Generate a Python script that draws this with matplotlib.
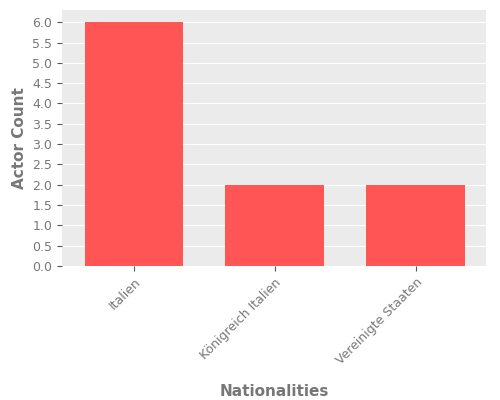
import matplotlib
matplotlib.use("Agg")
import matplotlib.pyplot as plt
import numpy as np

categories = ["Italien", "Königreich Italien", "Vereinigte Staaten"]
counts = [6, 2, 2]

fig = plt.figure(figsize=(5, 4), dpi=100)
ax = fig.add_axes([0.124, 0.335, 0.848, 0.64])
ax.set_facecolor("#EBEBEB")
x = np.arange(len(categories))
ax.bar(x, counts, width=0.7, color="#FF5555", zorder=3)
ax.set_xlim(-0.51, 2.5)
ax.set_ylim(0, 6.3)
ax.set_yticks(np.arange(0, 6.01, 0.5))
ax.set_yticklabels([f"{v:.1f}" for v in np.arange(0, 6.01, 0.5)])
ax.set_xticks(x)
ax.set_xticklabels(categories, rotation=45, ha="right", rotation_mode="anchor")
ax.grid(axis="y", color="white", linewidth=0.8, zorder=0)
for s in ax.spines.values():
    s.set_visible(False)
ax.tick_params(colors="#555555", labelsize=9, labelcolor="#777777")
ax.set_xlabel("Nationalities", fontsize=11, color="#777777", fontweight="bold", labelpad=12)
ax.set_ylabel("Actor Count", fontsize=11, color="#777777", fontweight="bold")
fig.savefig("out.png", dpi=100)
